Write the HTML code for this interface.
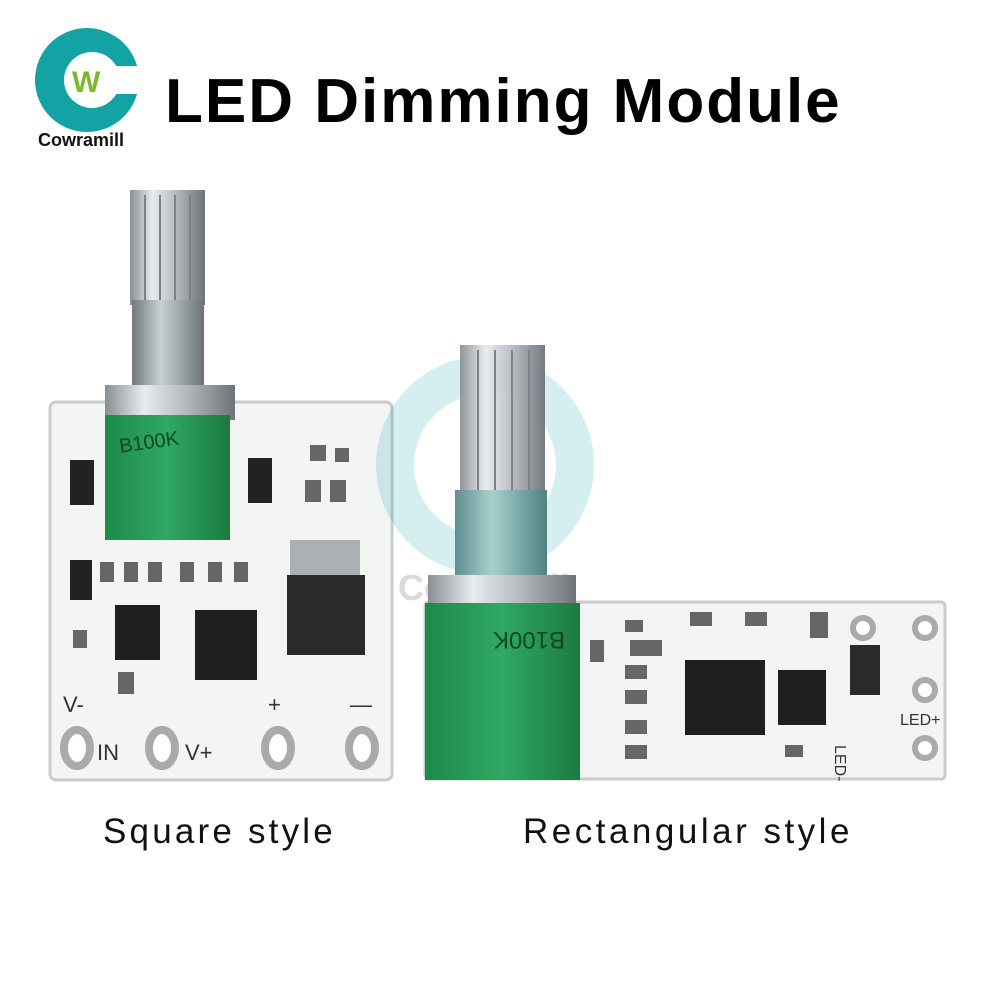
<!DOCTYPE html>
<html><head><meta charset="utf-8"><style>
html,body{margin:0;padding:0;background:#fff;width:1000px;height:1000px;overflow:hidden}
svg{display:block}
text{font-family:"Liberation Sans",sans-serif}
</style></head><body>
<svg width="1000" height="1000" viewBox="0 0 1000 1000" xmlns="http://www.w3.org/2000/svg">
<defs>
<linearGradient id="shaft" x1="0" x2="1" y1="0" y2="0">
<stop offset="0" stop-color="#8a8f94"/><stop offset="0.3" stop-color="#e8ecef"/><stop offset="0.6" stop-color="#b8bdc2"/><stop offset="1" stop-color="#6e7378"/></linearGradient>
<linearGradient id="green" x1="0" x2="1" y1="0" y2="0">
<stop offset="0" stop-color="#1f8a4a"/><stop offset="0.5" stop-color="#2fa862"/><stop offset="1" stop-color="#1c7a40"/></linearGradient>
<linearGradient id="thread" x1="0" x2="1"><stop offset="0" stop-color="#6f7a7c"/><stop offset="0.4" stop-color="#c8d0d2"/><stop offset="1" stop-color="#6a7375"/></linearGradient>
<linearGradient id="thread2" x1="0" x2="1"><stop offset="0" stop-color="#5e8e8e"/><stop offset="0.4" stop-color="#a9d0cf"/><stop offset="1" stop-color="#4f8282"/></linearGradient>
</defs>
<!-- logo -->
<circle cx="87" cy="80" r="52" fill="#14a3a5"/>
<circle cx="92" cy="80" r="28" fill="#fff"/>
<rect x="110" y="66" width="40" height="28" fill="#fff"/>
<text x="72" y="92" font-size="30" font-weight="bold" fill="#7ab82e">W</text>
<text x="38" y="146" font-size="18" font-weight="bold" fill="#111">Cowramill</text>
<text x="165" y="122" font-size="62" font-weight="bold" fill="#000" letter-spacing="2">LED Dimming Module</text>

<!-- left board -->
<rect x="50" y="402" width="342" height="378" rx="6" fill="#f3f4f4" stroke="#c9cccd" stroke-width="3"/>
<rect x="130" y="190" width="75" height="115" fill="url(#shaft)"/>
<g stroke="#7d8287" stroke-width="2"><line x1="145" y1="195" x2="145" y2="300"/><line x1="160" y1="195" x2="160" y2="300"/><line x1="175" y1="195" x2="175" y2="300"/><line x1="190" y1="195" x2="190" y2="300"/></g>
<rect x="132" y="300" width="72" height="90" fill="url(#thread)"/>
<rect x="105" y="385" width="130" height="35" fill="url(#shaft)"/>
<rect x="105" y="415" width="125" height="125" fill="url(#green)"/>
<text x="120" y="450" font-size="20" fill="#0c4a24" font-family="Liberation Serif" transform="rotate(-8 140 450)">B100K</text>
<rect x="70" y="460" width="24" height="45" fill="#222"/>
<rect x="248" y="458" width="24" height="45" fill="#222"/>
<rect x="70" y="560" width="22" height="40" fill="#222"/>
<rect x="115" y="605" width="45" height="55" fill="#1e1e1e"/>
<rect x="195" y="610" width="62" height="70" fill="#1e1e1e"/>
<rect x="287" y="575" width="78" height="80" fill="#2a2a2a"/>
<rect x="290" y="540" width="70" height="35" fill="#aab0b3"/>
<g fill="#666"><rect x="100" y="562" width="14" height="20"/><rect x="124" y="562" width="14" height="20"/><rect x="148" y="562" width="14" height="20"/><rect x="180" y="562" width="14" height="20"/><rect x="208" y="562" width="14" height="20"/><rect x="234" y="562" width="14" height="20"/><rect x="305" y="480" width="16" height="22"/><rect x="330" y="480" width="16" height="22"/><rect x="310" y="445" width="16" height="16"/><rect x="335" y="448" width="14" height="14"/><rect x="73" y="630" width="14" height="18"/><rect x="118" y="672" width="16" height="22"/></g>
<g fill="#fff" stroke="#aaa" stroke-width="8"><ellipse cx="77" cy="748" rx="13" ry="18"/><ellipse cx="162" cy="748" rx="13" ry="18"/><ellipse cx="278" cy="748" rx="13" ry="18"/><ellipse cx="362" cy="748" rx="13" ry="18"/></g>
<g font-size="22" fill="#333"><text x="63" y="712">V-</text><text x="97" y="760">IN</text><text x="185" y="760">V+</text><text x="268" y="712">+</text><text x="350" y="712">—</text></g>

<!-- watermark -->
<circle cx="485" cy="465" r="90" fill="none" stroke="#14a3a5" stroke-width="38" opacity="0.18"/>
<text x="398" y="600" font-size="36" font-weight="bold" fill="#888" opacity="0.3">Cowramill</text>

<!-- right board -->
<rect x="425" y="602" width="520" height="177" rx="4" fill="#f3f4f4" stroke="#c9cccd" stroke-width="3"/>
<rect x="460" y="345" width="85" height="150" fill="url(#shaft)" opacity="0.95"/>
<g stroke="#7d8287" stroke-width="2"><line x1="478" y1="350" x2="478" y2="490"/><line x1="495" y1="350" x2="495" y2="490"/><line x1="512" y1="350" x2="512" y2="490"/><line x1="529" y1="350" x2="529" y2="490"/></g>
<rect x="455" y="490" width="92" height="90" fill="url(#thread2)"/>
<rect x="428" y="575" width="148" height="32" fill="url(#shaft)"/>
<rect x="425" y="603" width="155" height="177" fill="url(#green)"/>
<text x="445" y="648" font-size="24" fill="#0c4a24" font-family="Liberation Serif" transform="rotate(180 505 640)">B100K</text>
<rect x="685" y="660" width="80" height="75" fill="#1e1e1e"/>
<rect x="778" y="670" width="48" height="55" fill="#1e1e1e"/>
<rect x="850" y="645" width="30" height="50" fill="#2a2a2a"/>
<g fill="#666"><rect x="625" y="620" width="18" height="12"/><rect x="690" y="612" width="22" height="14"/><rect x="745" y="612" width="22" height="14"/><rect x="810" y="612" width="18" height="26"/><rect x="590" y="640" width="14" height="22"/><rect x="625" y="665" width="22" height="14"/><rect x="625" y="690" width="22" height="14"/><rect x="625" y="720" width="22" height="14"/><rect x="625" y="745" width="22" height="14"/><rect x="785" y="745" width="18" height="12"/><rect x="630" y="640" width="32" height="16"/></g>
<g fill="#fff" stroke="#aaa" stroke-width="6"><circle cx="925" cy="628" r="10"/><circle cx="925" cy="690" r="10"/><circle cx="925" cy="748" r="10"/><circle cx="863" cy="628" r="10"/></g>
<g font-size="16" fill="#333"><text x="900" y="725">LED+</text><text x="835" y="765" transform="rotate(90 845 755)">LED-</text></g>

<text x="103" y="843" font-size="35" fill="#111" letter-spacing="3.2">Square style</text>
<text x="523" y="843" font-size="35" fill="#111" letter-spacing="3.5">Rectangular style</text>
</svg>
</body></html>
